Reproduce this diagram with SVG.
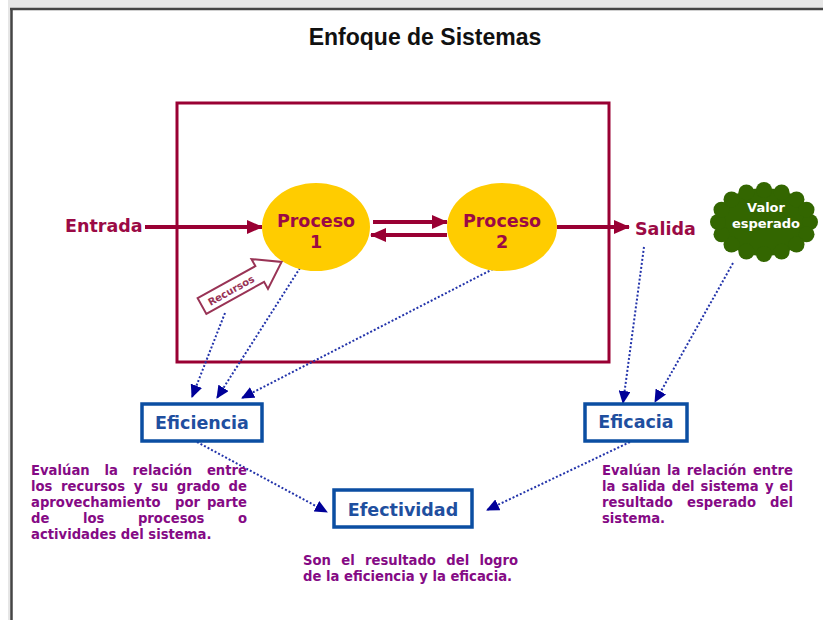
<svg xmlns="http://www.w3.org/2000/svg" width="823" height="620" viewBox="0 0 823 620">
<style>
.mar{fill:#9b0a45;font-family:"DejaVu Sans",Verdana,sans-serif;font-weight:bold;font-size:17.5px}
.blu{fill:#1f4f9f;font-family:"DejaVu Sans",Verdana,sans-serif;font-weight:bold;font-size:17.5px;text-anchor:middle}
.pur{fill:#850a85;font-family:"DejaVu Sans",Verdana,sans-serif;font-weight:bold;font-size:13.2px}
.box{fill:#fff;stroke:#0b4ea2;stroke-width:3.5}
.thick{stroke:#990033;stroke-width:4;fill:none}
.dot{stroke:#2233aa;stroke-width:2;stroke-dasharray:2 2;fill:none}
.proc{fill:#ffcc00}
.e{text-anchor:end}
</style>
<defs>
<marker id="mh" markerUnits="userSpaceOnUse" markerWidth="16" markerHeight="14" refX="15" refY="7" orient="auto">
<path d="M0,0 L16,7 L0,14 z" fill="#990033"/>
</marker>
<marker id="bh" markerUnits="userSpaceOnUse" markerWidth="13" markerHeight="12" refX="12" refY="6" orient="auto">
<path d="M0,0 L13,6 L0,12 z" fill="#000099"/>
</marker>
</defs>
<rect x="0" y="0" width="823" height="620" fill="#fff"/>
<rect x="8" y="0" width="815" height="8" fill="#e6e6e6"/>
<rect x="8" y="0" width="3" height="620" fill="#e6e6e6"/>
<line x1="10" y1="9" x2="823" y2="9" stroke="#444" stroke-width="2.5"/>
<line x1="11.5" y1="8" x2="11.5" y2="620" stroke="#444" stroke-width="2.5"/>
<text x="425" y="45" text-anchor="middle" font-family="'Liberation Sans',Arial,sans-serif" font-weight="bold" font-size="23" fill="#111">Enfoque de Sistemas</text>

<g id="sistema"><rect x="177" y="103" width="432" height="259" fill="none" stroke="#990033" stroke-width="3"/></g>

<g id="connectors">
<line class="thick" x1="145" y1="227" x2="262" y2="227" marker-end="url(#mh)"/>
<line class="thick" x1="373" y1="222" x2="447" y2="222" marker-end="url(#mh)"/>
<line class="thick" x1="447" y1="235" x2="371" y2="235" marker-end="url(#mh)"/>
<line class="thick" x1="557" y1="227" x2="629" y2="227" marker-end="url(#mh)"/>
<line class="dot" x1="225" y1="313" x2="192" y2="397" marker-end="url(#bh)"/>
<line class="dot" x1="300" y1="268" x2="217" y2="398" marker-end="url(#bh)"/>
<line class="dot" x1="493" y1="269" x2="242" y2="398" marker-end="url(#bh)"/>
<line class="dot" x1="644" y1="247" x2="623" y2="403" marker-end="url(#bh)"/>
<line class="dot" x1="733" y1="263" x2="655" y2="402" marker-end="url(#bh)"/>
<line class="dot" x1="197" y1="442" x2="327" y2="512" marker-end="url(#bh)"/>
<line class="dot" x1="630" y1="442" x2="487" y2="510" marker-end="url(#bh)"/>
</g>

<g id="entrada"><text class="mar" x="65" y="232">Entrada</text></g>
<g id="salida"><text class="mar" x="635" y="235">Salida</text></g>

<g id="proceso1">
<ellipse class="proc" cx="316" cy="227" rx="54" ry="44"/>
<text class="mar" x="316" y="227" text-anchor="middle">Proceso</text>
<text class="mar" x="316" y="248" text-anchor="middle">1</text>
</g>
<g id="proceso2">
<ellipse class="proc" cx="502" cy="227" rx="55" ry="44"/>
<text class="mar" x="502" y="227" text-anchor="middle">Proceso</text>
<text class="mar" x="502" y="248" text-anchor="middle">2</text>
</g>

<g id="recursos" transform="translate(202,306) rotate(-29)">
<polygon points="0,-9 66,-9 66,-17 91,0 66,17 66,9 0,9" fill="#fff" stroke="#993355" stroke-width="2"/>
<text x="33" y="4" text-anchor="middle" font-family="'DejaVu Sans',Verdana,sans-serif" font-weight="bold" font-size="10" fill="#993355">Recursos</text>
</g>

<g id="valor" fill="#336600">
<ellipse cx="764" cy="222" rx="48" ry="34"/>
<circle cx="810" cy="222" r="8"/>
<circle cx="806.5" cy="234.3" r="8"/>
<circle cx="796.5" cy="244.6" r="8"/>
<circle cx="781.6" cy="251.6" r="8"/>
<circle cx="764" cy="254" r="8"/>
<circle cx="746.4" cy="251.6" r="8"/>
<circle cx="731.5" cy="244.6" r="8"/>
<circle cx="721.5" cy="234.3" r="8"/>
<circle cx="718" cy="222" r="8"/>
<circle cx="721.5" cy="209.7" r="8"/>
<circle cx="731.5" cy="199.4" r="8"/>
<circle cx="746.4" cy="192.4" r="8"/>
<circle cx="764" cy="190" r="8"/>
<circle cx="781.6" cy="192.4" r="8"/>
<circle cx="796.5" cy="199.4" r="8"/>
<circle cx="806.5" cy="209.7" r="8"/>
<text x="766" y="212" text-anchor="middle" font-family="'DejaVu Sans',Verdana,sans-serif" font-weight="bold" font-size="13" fill="#fff">Valor</text>
<text x="766" y="228" text-anchor="middle" font-family="'DejaVu Sans',Verdana,sans-serif" font-weight="bold" font-size="13" fill="#fff">esperado</text>
</g>

<g id="eficiencia">
<rect class="box" x="142" y="404" width="120" height="37"/>
<text class="blu" x="202" y="429">Eficiencia</text>
</g>
<g id="eficacia">
<rect class="box" x="585" y="404" width="102" height="37"/>
<text class="blu" x="636" y="428">Eficacia</text>
</g>
<g id="efectividad">
<rect class="box" x="334" y="490" width="138" height="37"/>
<text class="blu" x="403" y="516">Efectividad</text>
</g>

<g id="texto-eficiencia" class="pur">
<text y="475"><tspan x="31">Evalúan</tspan> <tspan x="104.5">la</tspan> <tspan x="132.6">relación</tspan> <tspan x="247" class="e">entre</tspan></text>
<text y="491"><tspan x="31">los</tspan> <tspan x="61.1">recursos</tspan> <tspan x="133.7">y</tspan> <tspan x="150.9">su</tspan> <tspan x="176.7">grado</tspan> <tspan x="247" class="e">de</tspan></text>
<text y="507"><tspan x="31">aprovechamiento</tspan> <tspan x="175">por</tspan> <tspan x="247" class="e">parte</tspan></text>
<text y="523"><tspan x="31">de</tspan> <tspan x="82.9">los</tspan> <tspan x="137.9">procesos</tspan> <tspan x="247" class="e">o</tspan></text>
<text x="31" y="539">actividades del sistema.</text>
</g>

<g id="texto-eficacia" class="pur">
<text y="475"><tspan x="602">Evalúan</tspan> <tspan x="667.1">la</tspan> <tspan x="686.8">relación</tspan> <tspan x="793" class="e">entre</tspan></text>
<text y="491"><tspan x="602">la</tspan> <tspan x="621.4">salida</tspan> <tspan x="671.7">del</tspan> <tspan x="700.6">sistema</tspan> <tspan x="764.9">y</tspan> <tspan x="793" class="e">el</tspan></text>
<text y="507"><tspan x="602">resultado</tspan> <tspan x="687">esperado</tspan> <tspan x="793" class="e">del</tspan></text>
<text x="602" y="523">sistema.</text>
</g>

<g id="texto-efectividad" class="pur">
<text y="565"><tspan x="303">Son</tspan> <tspan x="341.3">el</tspan> <tspan x="365">resultado</tspan> <tspan x="446.3">del</tspan> <tspan x="518" class="e">logro</tspan></text>
<text x="303" y="581">de la eficiencia y la eficacia.</text>
</g>
</svg>
